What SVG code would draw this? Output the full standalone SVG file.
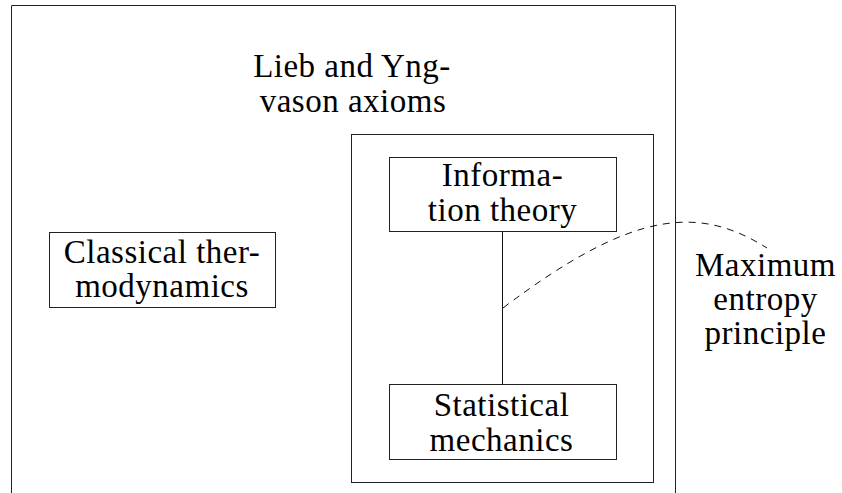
<svg xmlns="http://www.w3.org/2000/svg" width="842" height="493" viewBox="0 0 842 493">
<style>
.box{fill:none;stroke:#222;stroke-width:1}
.t{font-family:"Liberation Serif","Times New Roman",serif;font-size:33px;letter-spacing:0.5px;fill:#000;text-anchor:middle}
.conn{fill:none;stroke:#111;stroke-width:1}
.dash{stroke-dasharray:7 6}
</style>
<rect width="842" height="493" fill="#fff"/>
<g id="lieb-yngvason">
<path class="box" d="M11.5 500 V5.5 H675.5 V500"/>
<text class="t" x="352" y="77">Lieb and Yng-</text>
<text class="t" x="353" y="111.5">vason axioms</text>
</g>
<g id="stat-group">
<rect class="box" x="351.5" y="134.5" width="302" height="348"/>
</g>
<g id="classical">
<rect class="box" x="49.5" y="232.5" width="226" height="75"/>
<text class="t" x="162" y="262.5">Classical ther-</text>
<text class="t" x="162" y="296.5">modynamics</text>
</g>
<g id="information">
<rect class="box" x="389.5" y="157.5" width="227" height="74"/>
<text class="t" x="502.5" y="186">Informa-</text>
<text class="t" x="502.5" y="220.5">tion theory</text>
</g>
<g id="statistical">
<rect class="box" x="389.5" y="384.5" width="227" height="75"/>
<text class="t" x="501.5" y="416">Statistical</text>
<text class="t" x="501.5" y="450.5">mechanics</text>
</g>
<g id="maxent">
<text class="t" x="765.5" y="276">Maximum</text>
<text class="t" x="765.5" y="310">entropy</text>
<text class="t" x="765.5" y="344">principle</text>
</g>
<g id="connectors">
<line class="conn" x1="502.5" y1="231.5" x2="502.5" y2="384.5"/>
<path class="conn dash" d="M503 308 C635 208 700 206 767 248"/>
</g>
</svg>
